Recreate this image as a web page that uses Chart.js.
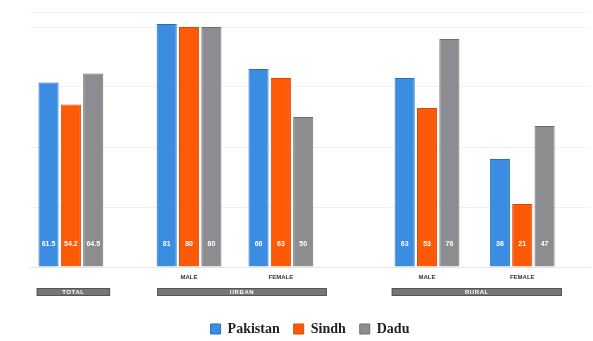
<!DOCTYPE html>
<html>
<head>
<meta charset="utf-8">
<script src="https://cdn.jsdelivr.net/npm/chart.js@4.4.1/dist/chart.umd.min.js"></script>
<style>
  html, body { margin: 0; padding: 0; background: #fff; }
  #wrap { width: 593px; height: 341px; }
</style>
</head>
<body>
<div id="wrap"><canvas id="c" width="593" height="341"></canvas></div>
<script>
// Literacy rate (%) by area and gender
const groups = ['TOTAL', 'URBAN MALE', 'URBAN FEMALE', 'RURAL MALE', 'RURAL FEMALE'];
const subLabels = ['MALE', 'FEMALE', 'MALE', 'FEMALE'];
const areaLabels = ['TOTAL', 'URBAN', 'RURAL'];
const seriesNames = ['Pakistan', 'Sindh', 'Dadu'];
const pakistan = [61.5, 81, 66, 63, 36];
const sindh    = [54.2, 80, 63, 53, 21];
const dadu     = [64.5, 80, 50, 76, 47];

// Horizontal layout on a 0..100 linear axis
const groupCenters = [7.3, 28.4, 44.8, 70.9, 87.9];
const tickCenters = groupCenters.slice(1);
const areaSpans = [[1.2, 14.3], [22.7, 53.0], [64.6, 95.0]];

const fills   = ['#3b8de2', '#fd5a08', '#8d8c91'];
const borders = ['#2a6fb8', '#d94a04', '#6e6d72'];

const seriesValues = [pakistan, sindh, dadu];

const datasets = seriesNames.map((name, i) => ({
  label: name,
  data: seriesValues[i].map((v, j) => ({ x: groupCenters[j], y: v })),
  backgroundColor: fills[i],
  borderColor: borders[i],
  borderWidth: 1,
  borderSkipped: 'bottom',
  barPercentage: 0.9,
  categoryPercentage: 0.73
}));

// White value labels near the foot of each bar
const valueLabels = {
  id: 'valueLabels',
  afterDatasetsDraw(chart) {
    const ctx = chart.ctx;
    ctx.save();
    ctx.font = 'bold 7px "Liberation Sans", Arial, sans-serif';
    ctx.fillStyle = '#ffffff';
    ctx.textAlign = 'center';
    ctx.textBaseline = 'middle';
    chart.data.datasets.forEach((ds, i) => {
      const meta = chart.getDatasetMeta(i);
      meta.data.forEach((bar, j) => {
        ctx.fillText(String(seriesValues[i][j]), bar.x, bar.base - 22);
      });
    });
    ctx.restore();
  }
};

// Grey area bands under the axis labels
const areaBands = {
  id: 'areaBands',
  afterDraw(chart) {
    const ctx = chart.ctx;
    const xs = chart.scales.x;
    const top = chart.chartArea.bottom + 21;
    const h = 8;
    ctx.save();
    areaSpans.forEach((span, k) => {
      const x0 = xs.getPixelForValue(span[0]);
      const x1 = xs.getPixelForValue(span[1]);
      ctx.fillStyle = '#767676';
      ctx.fillRect(x0, top, x1 - x0, h);
      ctx.strokeStyle = '#555555';
      ctx.lineWidth = 1;
      ctx.strokeRect(x0 + 0.5, top + 0.5, x1 - x0 - 1, h - 1);
      ctx.fillStyle = '#ffffff';
      ctx.font = 'bold 6px "Liberation Sans", Arial, sans-serif';
      ctx.textAlign = 'center';
      ctx.textBaseline = 'middle';
      ctx.letterSpacing = '0.6px';
      ctx.fillText(areaLabels[k], (x0 + x1) / 2, top + h / 2 + 0.5);
    });
    ctx.restore();
  }
};

new Chart(document.getElementById('c'), {
  type: 'bar',
  data: { datasets },
  options: {
    responsive: false,
    animation: false,
    devicePixelRatio: 1,
    layout: { padding: { top: 12, left: 30, right: 3, bottom: -5 } },
    scales: {
      x: {
        type: 'linear',
        min: 0,
        max: 100,
        offset: false,
        grid: { display: false },
        border: { display: true, color: '#e6e6e6' },
        afterBuildTicks(scale) {
          scale.ticks = tickCenters.map(v => ({ value: v }));
        },
        afterFit(scale) { scale.height = 41; },
        ticks: {
          autoSkip: false,
          maxRotation: 0,
          padding: -1,
          color: '#333333',
          font: { family: '"Liberation Sans", Arial, sans-serif', size: 6, weight: 'bold' },
          callback: (v, i) => subLabels[i]
        }
      },
      y: {
        min: 0,
        max: 85,
        ticks: { display: false, stepSize: 20 },
        grid: { color: '#f1f1f1', drawTicks: false },
        border: { display: false }
      }
    },
    plugins: {
      tooltip: { enabled: false },
      legend: {
        position: 'bottom',
        labels: {
          boxWidth: 10,
          boxHeight: 10,
          padding: 14,
          color: '#222222',
          font: { family: '"Liberation Serif", "DejaVu Serif", serif', size: 14, weight: 'bold' }
        }
      }
    }
  },
  plugins: [valueLabels, areaBands]
});
</script>
</body>
</html>
